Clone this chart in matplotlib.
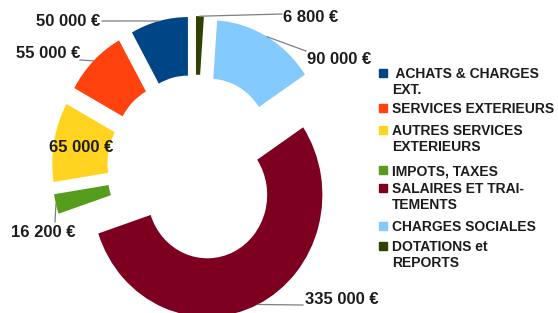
import numpy as np
import matplotlib.pyplot as plt

# data
categories = [" ACHATS & CHARGES\nEXT.", "SERVICES EXTERIEURS", "AUTRES SERVICES\nEXTERIEURS",
              "IMPOTS, TAXES", "SALAIRES ET TRAI-\nTEMENTS", "CHARGES SOCIALES",
              "DOTATIONS et\nREPORTS"]
values = [50000, 55000, 65000, 16200, 335000, 90000, 6800]
colors = ["#004586", "#ff420e", "#ffd320", "#579d1c", "#7e0021", "#83caff", "#314004"]

value_labels = [f"{v:,}".replace(",", " ") + " €" for v in values]

# layout (pixels from top-left of the 558x313 picture)
W, H = 558, 313
CX, CY = 195, 168      # pie centre
SX, SY = 115, 122      # pixels per unit radius (picture is a bit stretched vertically)

def to_data(x, y):
    return (x - CX) / SX, (CY - y) / SY

# text position, alignment, end of leader line
label_pos = [
    (100, 21, "right", (102, 21)),
    (80, 53, "right", (80, 60)),
    (81, 148, "center", None),
    (43, 233, "center", (55, 222)),
    (305, 299, "left", (303, 305)),
    (307, 60, "left", (306, 51)),
    (283, 18, "left", (282, 14)),
]
legend_y = [73, 108, 130, 170, 188, 226, 246]

plt.rcParams["font.family"] = ["Liberation Sans", "DejaVu Sans"]
text_color = "#1c1c1c"

fig = plt.figure(figsize=(W / 100, H / 100), dpi=100)
ax = fig.add_axes([0, 0, 1, 1])

wedges, _ = ax.pie(values, colors=colors, startangle=90, counterclock=True,
                   radius=1, explode=[0.245] * len(values),
                   wedgeprops=dict(width=0.48, linewidth=0))
ax.set_aspect("auto")
ax.set_xlim(to_data(0, 0)[0], to_data(W, 0)[0])
ax.set_ylim(to_data(0, H)[1], to_data(0, 0)[1])
ax.axis("off")

for w, txt, (tx, ty, ha, end) in zip(wedges, value_labels, label_pos):
    th = np.deg2rad((w.theta1 + w.theta2) / 2)
    ax_x = w.center[0] + w.r * np.cos(th)
    ax_y = w.center[1] + w.r * np.sin(th)
    if end is not None:
        ex, ey = to_data(*end)
        ax.plot([ax_x, ex], [ax_y, ey], color="#7f7f7f", lw=0.9)
    ax.text(*to_data(tx, ty), txt, ha=ha, va="center", fontsize=12,
            fontweight="bold", color=text_color)

# legend
for lab, col, ly in zip(categories, colors, legend_y):
    ax.plot(*to_data(383, ly), marker="s", ms=5.3, color=col, linestyle="none")
    ax.text(*to_data(392, ly - 5.5), lab, ha="left", va="top", fontsize=10,
            fontweight="bold", color=text_color, linespacing=1.13)

fig.savefig("out.png", dpi=100)
